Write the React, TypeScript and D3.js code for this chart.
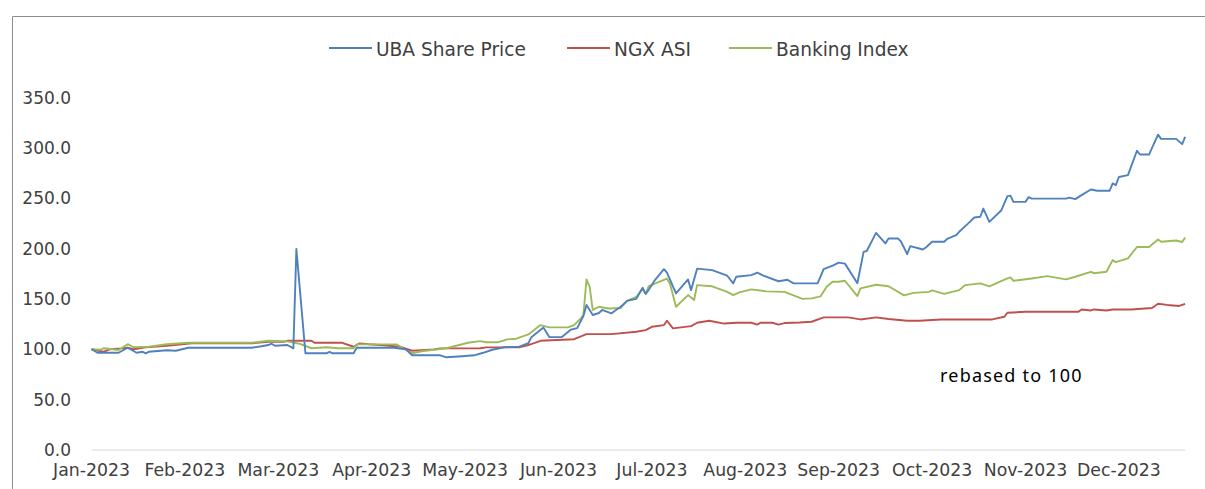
import React from "react";
import * as d3 from "d3";

const monthLabels = ["Jan-2023","Feb-2023","Mar-2023","Apr-2023","May-2023","Jun-2023","Jul-2023","Aug-2023","Sep-2023","Oct-2023","Nov-2023","Dec-2023"];
const yTicks = [0, 50, 100, 150, 200, 250, 300, 350];
const seriesNames = ["UBA Share Price", "NGX ASI", "Banking Index"];
const seriesColors = ["#4F81BD", "#C0504D", "#9BBB59"];

const ubaDates = ["01-01","01-03","01-04","01-10","01-13","01-16","01-18","01-19","01-20","01-26","01-29","02-02","02-21","02-24","02-26","02-27","02-28","03-04","03-06","03-07","03-10","03-17","03-18","03-19","03-26","03-27","04-08","04-12","04-14","04-23","04-25","04-30","05-04","05-07","05-10","05-14","05-19","05-22","05-23","05-27","05-29","06-02","06-05","06-07","06-09","06-10","06-12","06-14","06-15","06-18","06-19","06-21","06-23","06-26","06-28","06-29","06-30","07-02","07-05","07-06","07-09","07-13","07-14","07-16","07-21","07-26","07-28","07-29","08-03","08-05","08-07","08-12","08-15","08-17","08-25","08-27","08-30","09-01","09-03","09-07","09-09","09-10","09-13","09-16","09-17","09-20","09-21","09-23","09-24","09-28","09-29","10-01","10-05","10-06","10-09","10-10","10-13","10-15","10-17","10-18","10-20","10-24","10-26","10-27","10-28","11-01","11-02","11-03","11-08","11-14","11-15","11-17","11-19","11-22","11-24","11-28","11-29","11-30","12-01","12-04","12-07","12-08","12-11","12-12","12-14","12-15","12-20","12-22","12-23"];
const ubaValues = [100,96.5,96.5,96.5,101.5,96.5,97.5,96,97.5,99,98.5,101.5,101.5,103,104.2,105.5,103.5,104.2,100.9,199.5,96,96,97.5,96,96,101.5,101.5,100,94,94,92,93,94,96.5,99.5,102,102.5,106,112,121.7,112,112,119.5,121,133,144,134,136,139,135.6,138,142.2,148,150,161,155,159,168.7,179.5,176,155.5,169.3,158.7,180,178.6,173,165.4,172,173.6,176,173,167.5,169,165.4,165.4,179.5,183,186,185,165.5,196.7,197.5,215.5,205,210,210,207,194.4,202.4,199,201,206.7,206.7,209.5,213.3,216.6,225,230.8,231.5,239.7,226.5,238,252,252.5,246.3,246.3,251,249.5,249.5,249.5,250.5,249,253,258.6,257.3,257.3,264.6,263,271,272.8,297,293.3,293.3,300,313,308.8,308.8,303.6,310.8];

const ngxDates = ["01-01","01-05","01-07","01-11","01-13","01-15","01-19","01-26","02-03","02-21","02-26","03-03","03-04","03-12","03-13","03-22","03-26","03-28","03-31","04-05","04-10","04-12","04-14","04-21","04-23","05-06","05-08","05-19","05-22","05-26","06-06","06-10","06-18","06-26","06-29","07-01","07-05","07-06","07-08","07-14","07-16","07-20","07-25","07-29","08-03","08-05","08-06","08-10","08-12","08-14","08-19","08-23","08-27","09-04","09-08","09-13","09-17","09-23","09-27","10-04","10-21","10-25","10-26","11-01","11-18","11-19","11-22","11-23","11-27","11-29","12-05","12-12","12-14","12-17","12-21","12-23"];
const ngxValues = [100,97.5,100,100.9,101.5,100,101.9,103.5,105.8,105.8,107.5,107.5,108.4,108.4,106.5,106.5,102.5,105.8,105,104,102.5,100.5,98.5,99.9,100.9,101,101.9,101.9,104.2,108.4,110,115,115,117.4,119,122.3,124,128.3,120.7,123,126.3,128.3,125.5,126.3,126.3,124.5,126.3,126.3,124.5,126,126.5,127.3,131.6,131.6,129.6,131.6,130,128.3,128.3,129.6,129.6,132.3,136.2,137.2,137.2,139.5,138.5,139.5,138.5,139.5,139.5,141,145.2,144,143,145];

const bankDates = ["01-01","01-04","01-05","01-10","01-13","01-15","01-20","01-26","02-02","02-21","02-26","03-04","03-08","03-12","03-17","03-21","03-26","03-27","04-09","04-11","04-14","04-17","04-25","05-02","05-06","05-08","05-12","05-15","05-18","05-22","05-26","05-29","06-04","06-06","06-08","06-09","06-10","06-11","06-12","06-14","06-17","06-21","06-23","06-26","06-28","06-29","06-30","07-06","07-07","07-09","07-13","07-15","07-16","07-21","07-26","07-28","07-30","08-03","08-08","08-14","08-20","08-23","08-26","08-28","08-30","09-01","09-03","09-07","09-08","09-13","09-17","09-22","09-25","09-30","10-01","10-05","10-10","10-12","10-17","10-20","10-26","10-27","10-28","11-03","11-08","11-14","11-17","11-22","11-23","11-27","11-29","11-30","12-04","12-07","12-11","12-14","12-15","12-20","12-22","12-23"];
const bankValues = [100,99.5,101,99.2,105,102,102.5,105,106.5,106.5,108.4,107.8,105.5,101,102,101,101,104.8,104.8,101,96,98,101,106.5,108.1,107,107,109.8,110.5,114.7,124,121.7,121.7,124,130,134,169.3,162,139,142.2,140.5,141,148,152,160,155,162.7,170,165,142.2,153.8,148.8,163.7,162.5,157,153.8,156.5,159.4,157.5,157,150,150.5,152.5,162,167,167,168,152.8,160.4,164,162.5,153.5,156,157,158.5,155,158.7,163.7,165.4,162.5,170.3,171.3,168,170.3,172.6,169.4,172,176.9,175.5,177,188.5,186.5,190.2,201.5,201.5,209,206.7,208,206.5,211];

const YEAR = 2023;
const W = 1205;
const H = 489;
const PLOT_LEFT = 91.5;
const MONTH_W = 93.4;
const Y0 = 450;
const Y350 = 97.4;

function parseD(s: string): Date {
  const [m, d] = s.split("-").map(Number);
  return new Date(YEAR, m - 1, d);
}
function monthPos(dt: Date): number {
  const dim = new Date(dt.getFullYear(), dt.getMonth() + 1, 0).getDate();
  return dt.getMonth() + (dt.getDate() - 1) / dim;
}

type Pt = { t: number; v: number };
function build(dates: string[], values: number[]): Pt[] {
  return dates.map((d, i) => ({ t: monthPos(parseD(d)), v: values[i] }));
}

export default function App() {
  const x = d3.scaleLinear().domain([0, 12]).range([PLOT_LEFT, PLOT_LEFT + 12 * MONTH_W]);
  const y = d3.scaleLinear().domain([0, 350]).range([Y0, Y350]);
  const series = [build(ubaDates, ubaValues), build(ngxDates, ngxValues), build(bankDates, bankValues)];
  const line = d3.line<Pt>().x((p) => x(p.t)).y((p) => y(p.v));
  const lastT = d3.max(series.flat(), (p) => p.t) as number;
  const font = "'DejaVu Sans', sans-serif";
  const legendX = [329, 567, 729];

  return (
    <svg width={W} height={H} style={{ position: "absolute", left: 0, top: 0, background: "#fff" }}>
      <rect x={0} y={0} width={W} height={H} fill="#fff" />
      <line x1={12.5} y1={16.5} x2={W} y2={16.5} stroke="#8c8c8c" strokeWidth={1} />
      <line x1={12.5} y1={16.5} x2={12.5} y2={H} stroke="#8c8c8c" strokeWidth={1} />

      <line x1={x(0)} x2={x(lastT)} y1={y(0)} y2={y(0)} stroke="#d9d9d9" strokeWidth={1.2} />

      {yTicks.map((t) => (
        <text key={t} x={71} y={y(t)} dy="0.36em" textAnchor="end" fontFamily={font} fontSize={17} fill="#404040">
          {t.toFixed(1)}
        </text>
      ))}
      {monthLabels.map((lab, i) => (
        <text key={lab} x={x(i)} y={476} textAnchor="middle" fontFamily={font} fontSize={17.3} fill="#404040">
          {lab}
        </text>
      ))}

      {[1, 2, 0].map((i) => (
        <path key={i} d={line(series[i]) || ""} fill="none" stroke={seriesColors[i]} strokeWidth={1.9} strokeLinejoin="round" />
      ))}

      {seriesNames.map((n, i) => (
        <g key={n}>
          <line x1={legendX[i]} x2={legendX[i] + 43} y1={48} y2={48} stroke={seriesColors[i]} strokeWidth={2} />
          <text x={legendX[i] + 47} y={49} dy="0.36em" fontFamily={font} fontSize={18.6} fill="#404040">
            {n}
          </text>
        </g>
      ))}

      <text x={940} y={382} fontFamily="'Noto Sans', sans-serif" fontSize={18} letterSpacing={1.2} fill="#000">
        rebased to 100
      </text>
    </svg>
  );
}
